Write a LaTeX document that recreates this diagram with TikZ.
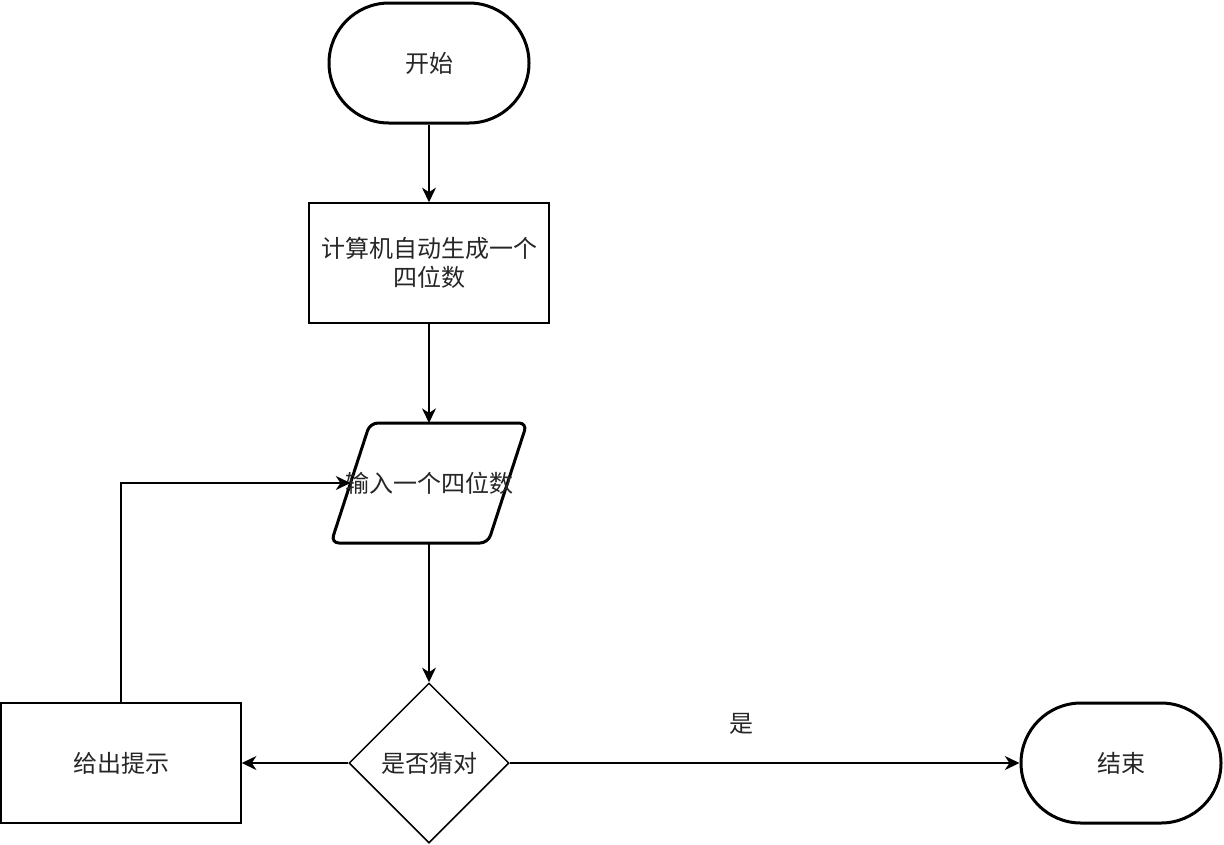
\documentclass[tikz,border=0pt]{standalone}
\usepackage{fontspec}
\setmainfont{Noto Sans CJK SC}
\usetikzlibrary{shapes.geometric,arrows.meta}
\tikzset{
  base/.style={font=\fontsize{18pt}{22pt}\selectfont, align=center, inner sep=0pt, text=black!85},
  terminal/.style={base, draw, line width=2.25pt, rounded corners=45pt, minimum width=150pt, minimum height=90pt},
  process/.style={base, draw, line width=1.125pt, minimum width=180pt, minimum height=90pt},
  decision/.style={base, draw, line width=1.125pt, diamond, minimum width=120pt, minimum height=120pt, aspect=1},
  conn/.style={line width=1.125pt, -{Stealth[length=11pt,width=10.5pt,inset=3.5pt]}},
  ioshape/.style={line width=2.25pt, rounded corners=6pt}
}
\begin{document}
\begin{tikzpicture}[x=0.75pt,y=-0.75pt]
\useasboundingbox (0,0) rectangle (1224,844);
\node[terminal] (start) at (429,63) {开始};
\node[process] (gen) at (429,263) {计算机自动生成一个\\四位数};
\draw[ioshape] (370,423) -- (527,423) -- (488,543) -- (331,543) -- cycle;
\node[base] (input) at (429,483) {输入一个四位数};
\coordinate (inputN) at (429,423);
\coordinate (inputS) at (429,543);
\coordinate (inputW) at (350.5,483);
\node[decision] (check) at (429,763) {是否猜对};
\node[process] (hint) at (121,763) {给出提示};
\node[terminal] (end) at (1121,763) {结束};
\draw[conn] (start.south) -- (gen.north);
\draw[conn] (gen.south) -- (inputN);
\draw[conn] (inputS) -- (check.north);
\draw[conn] (check.west) -- (hint.east);
\draw[conn] (hint.north) |- (inputW);
\draw[conn] (check.east) -- node[base, pos=0.454, yshift=29pt] (yes) {是} (end.west);
\end{tikzpicture}
\end{document}
